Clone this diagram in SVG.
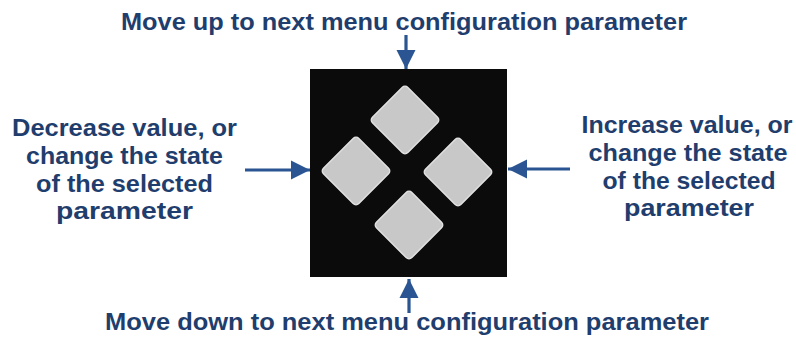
<svg xmlns="http://www.w3.org/2000/svg" width="796" height="337" viewBox="0 0 796 337">
<defs>
<style>
.t{font-family:"Liberation Sans",Arial,sans-serif;font-weight:bold;font-size:24.5px;fill:#1f3e6d;text-anchor:middle}
.c{stroke:#2a5592;stroke-width:3.2;fill:none}
.key{fill:#c8c8c8;stroke:#e2e2e2;stroke-width:1.5}
</style>
<marker id="ah" viewBox="0 0 10 10" refX="10" refY="5" markerWidth="6" markerHeight="6" markerUnits="strokeWidth" orient="auto">
<path d="M0,0 L10,5 L0,10 Z" fill="#2a5592"/>
</marker>
<linearGradient id="kg" x1="0" y1="0" x2="1" y2="1">
<stop offset="0" stop-color="#d2d2d2"/>
<stop offset="1" stop-color="#bdbdbd"/>
</linearGradient>
</defs>
<rect width="796" height="337" fill="#ffffff"/>
<g id="keypad">
<rect x="310" y="69" width="197" height="208" fill="#0b0b0b"/>
<g id="key-up"><rect class="key" x="-25" y="-25" width="50" height="50" rx="4" fill="url(#kg)" transform="translate(405,120) rotate(45)"/></g>
<g id="key-left"><rect class="key" x="-25" y="-25" width="50" height="50" rx="4" fill="url(#kg)" transform="translate(356,171) rotate(45)"/></g>
<g id="key-right"><rect class="key" x="-25" y="-25" width="50" height="50" rx="4" fill="url(#kg)" transform="translate(458,172) rotate(45)"/></g>
<g id="key-down"><rect class="key" x="-25" y="-25" width="50" height="50" rx="4" fill="url(#kg)" transform="translate(409,225) rotate(45)"/></g>
</g>
<g id="label-top"><text class="t" x="404" y="30" textLength="566" lengthAdjust="spacingAndGlyphs">Move up to next menu configuration parameter</text></g>
<g id="label-bottom"><text class="t" x="407" y="330" textLength="604" lengthAdjust="spacingAndGlyphs">Move down to next menu configuration parameter</text></g>
<g id="label-left">
<text class="t" x="124.5" y="136" textLength="225" lengthAdjust="spacingAndGlyphs">Decrease value, or</text>
<text class="t" x="124.5" y="164" textLength="197" lengthAdjust="spacingAndGlyphs">change the state</text>
<text class="t" x="124.5" y="192" textLength="177" lengthAdjust="spacingAndGlyphs">of the selected</text>
<text class="t" x="124.5" y="219" textLength="137" lengthAdjust="spacingAndGlyphs">parameter</text>
</g>
<g id="label-right">
<text class="t" x="687" y="133" textLength="211" lengthAdjust="spacingAndGlyphs">Increase value, or</text>
<text class="t" x="688" y="161" textLength="199" lengthAdjust="spacingAndGlyphs">change the state</text>
<text class="t" x="689" y="189" textLength="173" lengthAdjust="spacingAndGlyphs">of the selected</text>
<text class="t" x="689" y="216" textLength="130" lengthAdjust="spacingAndGlyphs">parameter</text>
</g>
<g id="connectors">
<line class="c" x1="406" y1="35" x2="406" y2="69" marker-end="url(#ah)"/>
<line class="c" x1="245" y1="170" x2="310" y2="170" marker-end="url(#ah)"/>
<line class="c" x1="570" y1="169" x2="508" y2="169" marker-end="url(#ah)"/>
<line class="c" x1="409" y1="313" x2="409" y2="279" marker-end="url(#ah)"/>
</g>
</svg>
